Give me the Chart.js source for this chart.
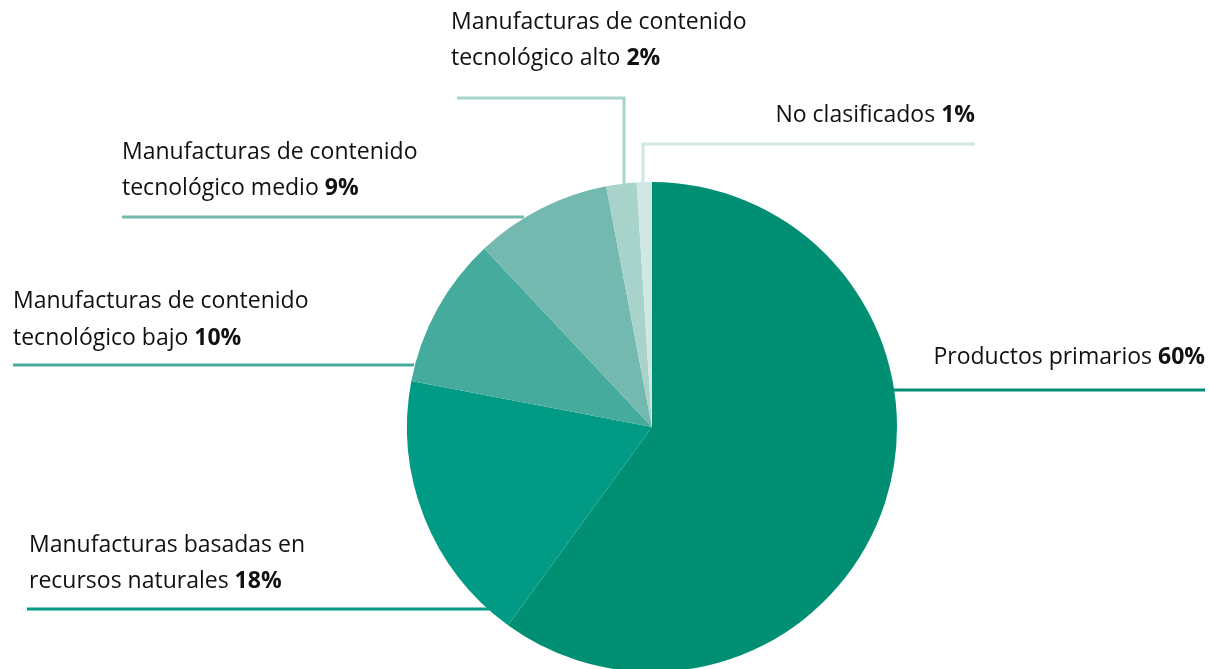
<!DOCTYPE html>
<html><head><meta charset="utf-8">
<script src="https://cdn.jsdelivr.net/npm/chart.js@4.4.1/dist/chart.umd.min.js"></script>
<style>html,body{margin:0;padding:0;background:#fff;overflow:hidden;width:1209px;height:669px}#wrap{width:1209px;height:700px;position:relative}</style>
</head><body><div id="wrap"><canvas id="c" width="1209" height="700"></canvas></div>
<script>
const categories = [
  ["Productos primarios"],
  ["Manufacturas basadas en", "recursos naturales"],
  ["Manufacturas de contenido", "tecnológico bajo"],
  ["Manufacturas de contenido", "tecnológico medio"],
  ["Manufacturas de contenido", "tecnológico alto"],
  ["No clasificados"]
];
const values = [60, 18, 10, 9, 2, 1];
const colors = ["#008f73", "#009a85", "#45ab9c", "#73b9af", "#a7d3ca", "#d0e8e3"];

// label layout (position of text and leader lines) - presentation only
const labelLayout = [
  {x:1205, y:357, align:"right", lh:36, line:[[893,390],[1205,390]]},
  {x:29, y:545, align:"left", lh:36, line:[[27,609],[495,609]]},
  {x:13, y:301, align:"left", lh:37, line:[[13,365],[414,365]]},
  {x:122, y:152, align:"left", lh:36, line:[[122,217],[524,217]]},
  {x:451, y:22, align:"left", lh:36, line:[[457,98],[624,98],[624,186]]},
  {x:975, y:115, align:"right", lh:36, line:[[975,144],[643,144],[643,184]]}
];
const FONT = "'Open Sans', sans-serif";
const FS = 23;

const labelPlugin = {
  id: "labels",
  afterDraw(chart) {
    const ctx = chart.ctx;
    ctx.save();
    labelLayout.forEach((L, i) => {
      ctx.strokeStyle = colors[i];
      ctx.lineWidth = 3;
      ctx.beginPath();
      L.line.forEach((p, k) => k ? ctx.lineTo(p[0], p[1]) : ctx.moveTo(p[0], p[1]));
      ctx.stroke();
      const lines = categories[i];
      ctx.textBaseline = "middle";
      ctx.fillStyle = "#111111";
      lines.forEach((t, j) => {
        const y = L.y + j * L.lh;
        const isLast = j === lines.length - 1;
        const pct = values[i] + "%";
        ctx.font = FS + "px " + FONT;
        const normal = isLast ? t + " " : t;
        const wN = ctx.measureText(normal).width;
        ctx.font = "bold " + FS + "px " + FONT;
        const wB = isLast ? ctx.measureText(pct).width : 0;
        let x0 = L.align === "right" ? L.x - wN - wB : L.x;
        ctx.textAlign = "left";
        ctx.font = FS + "px " + FONT;
        ctx.fillText(normal, x0, y);
        if (isLast) {
          ctx.font = "bold " + FS + "px " + FONT;
          ctx.fillText(pct, x0 + wN, y);
        }
      });
    });
    ctx.restore();
  }
};

new Chart(document.getElementById("c"), {
  type: "pie",
  data: {
    labels: categories.map(c => c.join(" ")),
    datasets: [{ data: values, backgroundColor: colors, borderWidth: 0 }]
  },
  options: {
    responsive: false,
    animation: false,
    layout: { padding: { left: 407, right: 312, top: 182, bottom: 28 } },
    plugins: { legend: { display: false }, tooltip: { enabled: false } }
  },
  plugins: [labelPlugin]
});
</script></body></html>
